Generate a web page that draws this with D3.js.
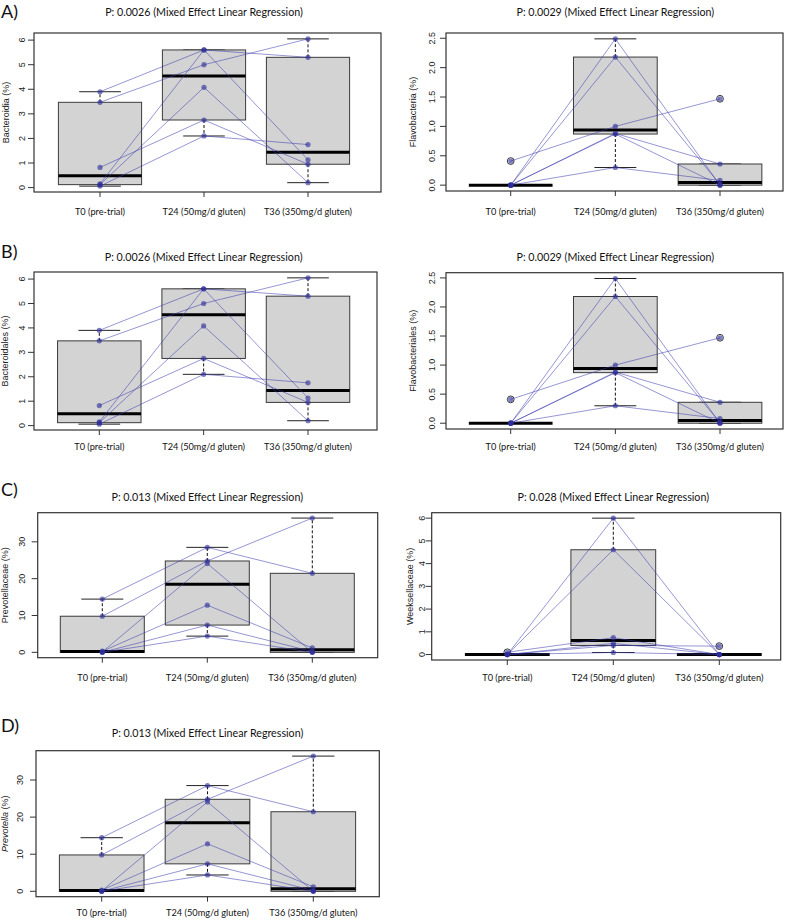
<!DOCTYPE html>
<html>
<head>
<meta charset="utf-8">
<script src="https://cdn.jsdelivr.net/npm/d3@7"></script>
<style>
  html, body { margin: 0; padding: 0; background: #fff; }
  svg { display: block; }
</style>
</head>
<body>
<svg id="chart" width="787" height="920"></svg>
<script>
// ---------------- DATA ----------------
const categories = ["T0 (pre-trial)", "T24 (50mg/d gluten)", "T36 (350mg/d gluten)"];

// values per subject (same subject order in every array)
const bacteroidiaT0  = [3.90, 3.47, 0.82, 0.15, 0.12, 0.06];
const bacteroidiaT24 = [5.60, 5.00, 2.75, 5.60, 4.08, 2.10];
const bacteroidiaT36 = [5.30, 6.05, 0.95, 1.13, 0.20, 1.75];

const flavoT0  = [0.41, 0.00, 0.00, 0.00, 0.00, 0.00];
const flavoT24 = [1.00, 2.49, 2.18, 0.88, 0.87, 0.30];
const flavoT36 = [1.47, 0.00, 0.01, 0.36, 0.00, 0.08];

const prevotellaT0  = [14.45, 9.80, 0.10, 0.30, 0.00, 0.00];
const prevotellaT24 = [28.50, 24.80, 24.10, 12.80, 7.40, 4.40];
const prevotellaT36 = [21.45, 36.45, 0.00, 1.20, 0.20, 0.00];

const weekselT0  = [0.10, 0.00, 0.00, 0.00, 0.00, 0.00];
const weekselT24 = [0.74, 6.00, 4.61, 0.49, 0.40, 0.09];
const weekselT36 = [0.00, 0.00, 0.00, 0.00, 0.37, 0.00];

const pValues = ["0.0026", "0.0029", "0.0026", "0.0029", "0.013", "0.028", "0.013"];
const yLabels = ["Bacteroidia", "Flavobacteria", "Bacteroidales", "Flavobacteriales", "Prevotellaceae", "Weeksellaceae", "Prevotella"];
const panelLetters = ["A)", "B)", "C)", "D)"];

const ticks0to6   = [0, 1, 2, 3, 4, 5, 6];
const ticks0to2_5 = [0, 0.5, 1.0, 1.5, 2.0, 2.5];
const ticks0to30  = [0, 10, 20, 30];

// ---------------- LAYOUT ----------------
const panels = [
  {data:[bacteroidiaT0,bacteroidiaT24,bacteroidiaT36], p:0, lab:0, ticks:ticks0to6, fmt:"d",
   box:[34,33,381,192], cx:[100,308], titleY:12.5, tickX:22, yTitleX:6, xLabY:211.7},
  {data:[flavoT0,flavoT24,flavoT36], p:1, lab:1, ticks:ticks0to2_5, fmt:".1f",
   box:[446,33,783,191], cx:[510.7,720], titleY:12.5, tickX:431.7, yTitleX:413.3, xLabY:211.7},
  {data:[bacteroidiaT0,bacteroidiaT24,bacteroidiaT36], p:2, lab:2, ticks:ticks0to6, fmt:"d",
   box:[34,272,377,430], cx:[99.3,308], titleY:257, tickX:22, yTitleX:5, xLabY:447},
  {data:[flavoT0,flavoT24,flavoT36], p:3, lab:3, ticks:ticks0to2_5, fmt:".1f",
   box:[446,272.7,783,429], cx:[510.7,720], titleY:257, tickX:431.7, yTitleX:413.3, xLabY:447},
  {data:[prevotellaT0,prevotellaT24,prevotellaT36], p:4, lab:4, ticks:ticks0to30, fmt:"d",
   box:[37.7,512.7,377.7,657.7], cx:[102.3,312.3], titleY:497.7, tickX:21.7, yTitleX:5, xLabY:678},
  {data:[weekselT0,weekselT24,weekselT36], p:5, lab:5, ticks:ticks0to6, fmt:"d",
   box:[431.7,512.7,780.7,660], cx:[507.3,719.3], titleY:497.7, tickX:421.7, yTitleX:410, xLabY:678},
  {data:[prevotellaT0,prevotellaT24,prevotellaT36], p:6, lab:6, ticks:ticks0to30, fmt:"d", italic:true,
   box:[36,750.7,379.3,896.7], cx:[101.7,313.3], titleY:733, tickX:20, yTitleX:5, xLabY:913}
];
const letterPos = [[1,17.5],[1,257.7],[1,495.7],[1,732]];

const svg = d3.select("#chart");
const humanist = "Lato, 'Open Sans', sans-serif";
const arial = "'Liberation Sans', Arial, sans-serif";

function fitSize(str, family, targetW) {
  const t = svg.append("text").attr("font-family", family).attr("font-size", 100).text(str);
  const w = t.node().getComputedTextLength();
  t.remove();
  return 100 * targetW / w;
}
const titleSize = fitSize("P: 0.0026 (Mixed Effect Linear Regression)", humanist, 198);
const xLabSize = fitSize(categories[1], humanist, 83);

function fivenum(x) {
  const s = x.slice().sort((a, b) => a - b), n = s.length;
  const n4 = Math.floor((n + 3) / 2) / 2;
  return [1, n4, (n + 1) / 2, n + 1 - n4, n].map(v => 0.5 * (s[Math.floor(v) - 1] + s[Math.ceil(v) - 1]));
}
function boxStats(x) {
  const f = fivenum(x), iqr = f[3] - f[1];
  const lo = f[1] - 1.5 * iqr, hi = f[3] + 1.5 * iqr;
  const inside = x.filter(v => v >= lo && v <= hi);
  const out = x.filter(v => v < lo || v > hi);
  return {q1: f[1], med: f[2], q3: f[3], wlo: d3.min(inside), whi: d3.max(inside), out};
}

const ptColor = "rgba(45,45,155,0.62)";
const lineColor = "rgba(60,60,175,0.6)";

panels.forEach(P => {
  const [x0, y0, x1, y1] = P.box;
  const g = svg.append("g");
  const all = P.data.flat();
  const ext = d3.extent(all), pad = (ext[1] - ext[0]) * 0.04;
  const y = d3.scaleLinear().domain([ext[0] - pad, ext[1] + pad]).range([y1, y0]);
  const x = d3.scaleLinear().domain([1, 3]).range(P.cx);
  const unit = (P.cx[1] - P.cx[0]) / 2;
  const bw = 0.8 * unit, sw = bw / 2;

  // boxes
  P.data.forEach((vals, i) => {
    const s = boxStats(vals), cx = x(i + 1);
    g.append("line").attr("x1", cx).attr("x2", cx).attr("y1", y(s.q3)).attr("y2", y(s.whi))
      .attr("stroke", "#111").attr("stroke-width", 1).attr("stroke-dasharray", "3,2");
    g.append("line").attr("x1", cx).attr("x2", cx).attr("y1", y(s.q1)).attr("y2", y(s.wlo))
      .attr("stroke", "#111").attr("stroke-width", 1).attr("stroke-dasharray", "3,2");
    [s.whi, s.wlo].forEach(v => g.append("line").attr("x1", cx - sw / 2).attr("x2", cx + sw / 2)
      .attr("y1", y(v)).attr("y2", y(v)).attr("stroke", "#222").attr("stroke-width", 1));
    g.append("rect").attr("x", cx - bw / 2).attr("width", bw)
      .attr("y", y(s.q3)).attr("height", Math.max(0, y(s.q1) - y(s.q3)))
      .attr("fill", "#d3d3d3").attr("stroke", "#3a3a3a").attr("stroke-width", 1);
    g.append("line").attr("x1", cx - bw / 2).attr("x2", cx + bw / 2)
      .attr("y1", y(s.med)).attr("y2", y(s.med)).attr("stroke", "#000").attr("stroke-width", 3);
    s.out.forEach(v => g.append("circle").attr("cx", cx).attr("cy", y(v)).attr("r", 3.4)
      .attr("fill", "none").attr("stroke", "#222").attr("stroke-width", 0.9));
  });

  // subject lines
  const nSub = P.data[0].length;
  const line = d3.line().x(d => x(d[0])).y(d => y(d[1]));
  for (let k = 0; k < nSub; k++) {
    const pts = P.data.map((vals, i) => [i + 1, vals[k]]);
    g.append("path").attr("d", line(pts)).attr("fill", "none")
      .attr("stroke", lineColor).attr("stroke-width", 0.9);
  }
  // points
  P.data.forEach((vals, i) => vals.forEach(v =>
    g.append("circle").attr("cx", x(i + 1)).attr("cy", y(v)).attr("r", 2.6).attr("fill", ptColor)));

  // frame
  g.append("rect").attr("x", x0).attr("y", y0).attr("width", x1 - x0).attr("height", y1 - y0)
    .attr("fill", "none").attr("stroke", "#333").attr("stroke-width", 1.2);

  // y axis ticks
  const fmt = d3.format(P.fmt);
  P.ticks.forEach(t => {
    g.append("line").attr("x1", x0 - 6).attr("x2", x0).attr("y1", y(t)).attr("y2", y(t))
      .attr("stroke", "#333").attr("stroke-width", 1);
    g.append("text").attr("transform", `translate(${P.tickX},${y(t)}) rotate(-90)`)
      .attr("text-anchor", "middle").attr("dy", "0.35em")
      .attr("font-family", arial).attr("font-size", 9).attr("fill", "#222").text(fmt(t));
  });
  // x axis ticks + labels
  categories.forEach((c, i) => {
    g.append("line").attr("x1", x(i + 1)).attr("x2", x(i + 1)).attr("y1", y1).attr("y2", y1 + 5)
      .attr("stroke", "#333").attr("stroke-width", 1);
    g.append("text").attr("x", x(i + 1)).attr("y", P.xLabY).attr("dy", "0.35em")
      .attr("text-anchor", "middle").attr("font-family", humanist).attr("font-size", xLabSize)
      .attr("fill", "#111").text(c);
  });
  // y title
  const yt = g.append("text").attr("transform", `translate(${P.yTitleX},${(y0 + y1) / 2}) rotate(-90)`)
    .attr("text-anchor", "middle").attr("dy", "0.35em")
    .attr("font-family", arial).attr("font-size", 9).attr("fill", "#222");
  yt.append("tspan").attr("font-style", P.italic ? "italic" : "normal").text(yLabels[P.lab]);
  yt.append("tspan").text(" (%)");
  // title
  g.append("text").attr("x", x(2)).attr("y", P.titleY).attr("dy", "0.35em")
    .attr("text-anchor", "middle").attr("font-family", humanist).attr("font-size", titleSize)
    .attr("fill", "#111").text(`P: ${pValues[P.p]} (Mixed Effect Linear Regression)`);
});

panelLetters.forEach((L, i) => {
  svg.append("text").attr("x", letterPos[i][0]).attr("y", letterPos[i][1])
    .attr("font-family", humanist).attr("font-size", 18).attr("fill", "#111").text(L);
});
</script>
</body>
</html>
